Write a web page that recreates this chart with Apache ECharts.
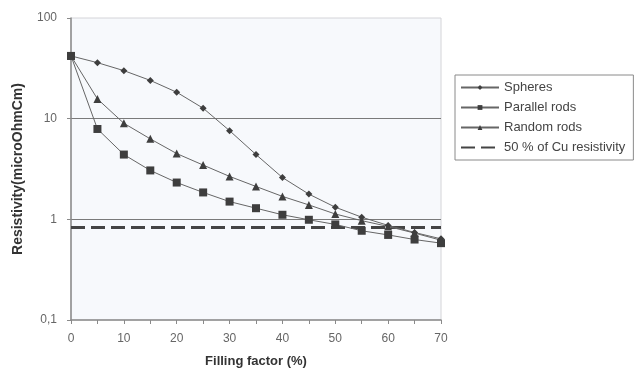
<!DOCTYPE html>
<html><head><meta charset="utf-8">
<script src="https://cdn.jsdelivr.net/npm/echarts@6/dist/echarts.min.js"></script>
<style>html,body{margin:0;padding:0;background:#fff}#c{width:635px;height:368px}</style>
</head><body><div id="c"></div>
<script>
const filling = [0, 5, 10, 15, 20, 25, 30, 35, 40, 45, 50, 55, 60, 65, 70];
const spheres = [42, 36, 30, 24, 18.3, 12.7, 7.6, 4.4, 2.6, 1.78, 1.32, 1.05, 0.87, 0.74, 0.64];
const parallelRods = [42, 7.9, 4.4, 3.06, 2.32, 1.85, 1.5, 1.29, 1.11, 0.99, 0.89, 0.77, 0.7, 0.63, 0.58];
const randomRods = [42, 15.7, 9.0, 6.3, 4.5, 3.46, 2.67, 2.12, 1.69, 1.39, 1.13, 0.97, 0.85, 0.73, 0.62];
const cuHalf = 0.83;
const seriesNames = ['Spheres', 'Parallel rods', 'Random rods', '50 % of Cu resistivity'];
const yTickLabels = {0.1: '0,1', 1: '1', 10: '10', 100: '100'};

const pairs = arr => filling.map((x, i) => [x, arr[i]]);
const lineCol = '#666', symCol = '#3e3e3e';
function mk(name, arr, symbol, size) {
  return {name, type: 'line', data: pairs(arr), symbol, symbolSize: size, showSymbol: true,
    lineStyle: {color: lineCol, width: 1}, itemStyle: {color: symCol}, emphasis: {disabled: true}, z: 3};
}
const chart = echarts.init(document.getElementById('c'), null, {renderer: 'canvas'});
chart.setOption({
  animation: false,
  backgroundColor: '#fff',
  textStyle: {fontFamily: 'Liberation Sans, Arial, sans-serif'},
  grid: {left: 71, top: 18, width: 370, height: 302, outerBoundsMode: 'none', containLabel: false,
    show: true, backgroundColor: '#f7f9fc', borderColor: '#d4d4d8', borderWidth: 1},
  legend: {
    orient: 'vertical', left: 455, top: 75, padding: [6, 8, 6, 5], itemGap: 7, itemWidth: 38, itemHeight: 6,
    borderColor: '#8a8a8a', borderWidth: 1, backgroundColor: '#fff',
    textStyle: {fontSize: 13, color: '#444', fontFamily: 'Liberation Sans, Arial, sans-serif'},
    data: seriesNames
  },
  xAxis: {
    type: 'value', min: 0, max: 70, interval: 5,
    name: 'Filling factor (%)', nameLocation: 'middle', nameGap: 35,
    nameTextStyle: {fontSize: 13, fontWeight: 'bold', color: '#333'},
    axisLine: {lineStyle: {color: '#8a8a8a', width: 1.5}},
    axisTick: {show: true, length: 4, lineStyle: {color: '#8a8a8a'}},
    axisLabel: {fontSize: 12, color: '#666', margin: 13, formatter: v => (v % 10 === 0 ? String(v) : '')},
    splitLine: {show: false}
  },
  yAxis: {
    type: 'log', logBase: 10, min: 0.1, max: 100,
    name: 'Resistivity(microOhmCm)', nameLocation: 'middle', nameGap: 46,
    nameTextStyle: {fontSize: 14, fontWeight: 'bold', color: '#333'},
    axisLine: {show: true, lineStyle: {color: '#8a8a8a', width: 1.5}},
    axisTick: {show: true, length: 4, lineStyle: {color: '#8a8a8a'}},
    axisLabel: {fontSize: 12, color: '#666', margin: 14, formatter: v => yTickLabels[Math.round(v * 10) / 10] || String(v)},
    splitLine: {show: true, showMinLine: false, showMaxLine: false, lineStyle: {color: '#7a7a7a', width: 1}}
  },
  series: [
    mk(seriesNames[0], spheres, 'diamond', 7),
    mk(seriesNames[1], parallelRods, 'rect', 8),
    mk(seriesNames[2], randomRods, 'triangle', 8),
    {name: seriesNames[3], type: 'line', data: [[0, cuHalf], [70, cuHalf]], symbol: 'circle', symbolSize: 0, showSymbol: false,
      lineStyle: {color: '#444', width: 3, type: [14, 6]}, itemStyle: {color: 'rgba(0,0,0,0)', borderWidth: 0}, emphasis: {disabled: true}, z: 2}
  ]
});
</script></body></html>
